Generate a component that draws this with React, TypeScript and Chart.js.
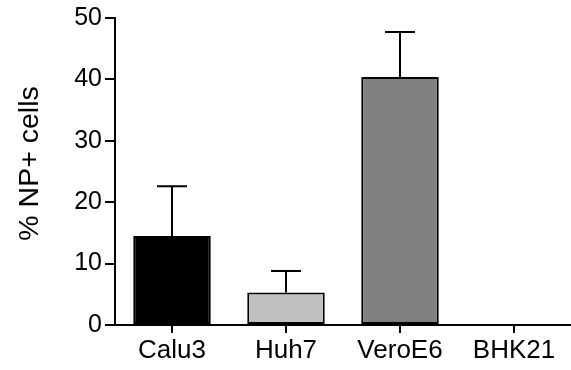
import React, { useEffect, useRef } from "react";
import { Chart, registerables } from "chart.js";

Chart.register(...registerables);

const categories = ["Calu3", "Huh7", "VeroE6", "BHK21"];
const meanValues = [14.5, 5.3, 40.4, 0];
const errorValues = [8.1, 3.5, 7.3, 0];
const barColors = ["#000000", "#c0c0c0", "#808080", "#ffffff"];
const yTicks = [0, 10, 20, 30, 40, 50];
const yTitle = "% NP+ cells";

const FONT = "'Liberation Sans', Arial, Helvetica, sans-serif";

const errorBarPlugin = {
  id: "errorBars",
  afterDatasetsDraw(chart: any) {
    const ctx = chart.ctx;
    const meta = chart.getDatasetMeta(0);
    const yScale = chart.scales.y;
    ctx.save();
    ctx.strokeStyle = "#000";
    ctx.lineWidth = 2;
    meta.data.forEach((bar: any, i: number) => {
      const err = errorValues[i];
      if (!err) return;
      const x = bar.x;
      const yBase = yScale.getPixelForValue(meanValues[i]);
      const yTop = yScale.getPixelForValue(meanValues[i] + err);
      ctx.beginPath();
      ctx.moveTo(x, yBase);
      ctx.lineTo(x, yTop);
      ctx.moveTo(x - 15, yTop);
      ctx.lineTo(x + 15, yTop);
      ctx.stroke();
    });
    ctx.restore();
  },
};

const yTitlePlugin = {
  id: "yTitle",
  afterDraw(chart: any) {
    const ctx = chart.ctx;
    const area = chart.chartArea;
    ctx.save();
    ctx.translate(30, (area.top + area.bottom) / 2 - 8);
    ctx.rotate(-Math.PI / 2);
    ctx.textAlign = "center";
    ctx.textBaseline = "middle";
    ctx.fillStyle = "#000";
    ctx.font = `28.5px ${FONT}`;
    ctx.fillText(yTitle, 0, 0);
    ctx.restore();
  },
};

export default function App() {
  const ref = useRef<HTMLCanvasElement | null>(null);
  useEffect(() => {
    document.body.style.margin = "0";
    document.body.style.overflow = "hidden";
    const chart = new Chart(ref.current as HTMLCanvasElement, {
      type: "bar",
      data: {
        labels: categories,
        datasets: [
          {
            data: meanValues,
            backgroundColor: barColors,
            borderColor: "#000",
            borderWidth: 2,
            borderSkipped: false,
            barPercentage: 0.68,
            categoryPercentage: 1,
          },
        ],
      },
      options: {
        animation: false,
        responsive: false,
        maintainAspectRatio: false,
        layout: { padding: { top: 18, right: -3, bottom: 0, left: 0 } },
        plugins: { legend: { display: false }, tooltip: { enabled: false } },
        scales: {
          x: {
            offset: true,
            grid: {
              display: true,
              drawOnChartArea: false,
              drawTicks: true,
              tickLength: 8,
              color: "#000",
              lineWidth: 2,
              offset: false,
            },
            border: { display: true, color: "#000", width: 2 },
            ticks: {
              color: "#000",
              padding: 2,
              font: { family: FONT, size: 26 },
              maxRotation: 0,
            },
            afterFit: (s: any) => {
              s.height = 45;
            },
          },
          y: {
            min: 0,
            max: 50,
            afterBuildTicks: (s: any) => {
              s.ticks = yTicks.map((v) => ({ value: v }));
            },
            grid: {
              display: true,
              drawOnChartArea: false,
              drawTicks: true,
              tickLength: 10,
              color: "#000",
              lineWidth: 2,
            },
            border: { display: true, color: "#000", width: 2 },
            ticks: {
              color: "#000",
              padding: 3,
              font: { family: FONT, size: 25 },
            },
            title: { display: false, text: yTitle },
            afterFit: (s: any) => {
              s.width = 115;
            },
          },
        },
      },
      plugins: [errorBarPlugin, yTitlePlugin],
    });
    return () => chart.destroy();
  }, []);
  return (
    <div style={{ width: 571, height: 370, background: "#fff" }}>
      <canvas ref={ref} width={571} height={370} />
    </div>
  );
}
